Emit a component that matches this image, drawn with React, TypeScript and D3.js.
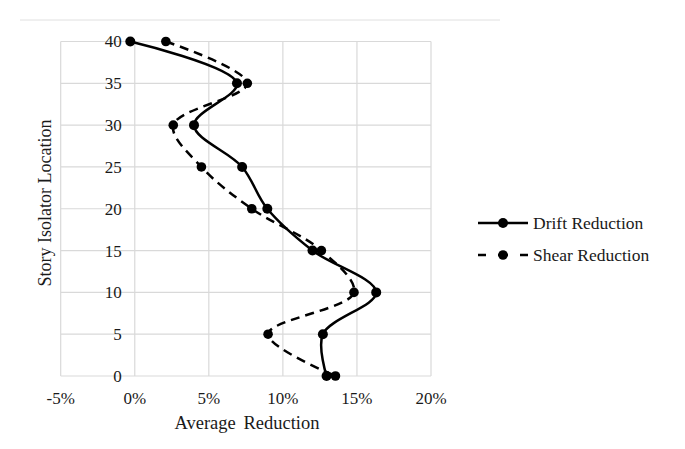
import React from "react";
import * as d3 from "d3";

const stories = [40, 35, 30, 25, 20, 15, 10, 5, 0];
const driftReduction = [-0.3, 6.9, 4.0, 7.25, 8.95, 12.0, 16.3, 12.7, 12.95];
const shearReduction = [2.1, 7.6, 2.6, 4.5, 7.9, 12.6, 14.8, 9.0, 13.55];
const xTicks = [-5, 0, 5, 10, 15, 20];
const yTicks = [0, 5, 10, 15, 20, 25, 30, 35, 40];

const W = 685;
const H = 449;
const font = "'Liberation Serif', 'Times New Roman', serif";
const ink = "#1a1a1a";

export default function App() {
  const x = d3.scaleLinear().domain([-5, 20]).range([60.7, 431]);
  const y = d3.scaleLinear().domain([0, 40]).range([376, 41.5]);

  const line = d3
    .line<[number, number]>()
    .x((d) => x(d[0]))
    .y((d) => y(d[1]))
    .curve(d3.curveCatmullRom.alpha(0.5));

  const drift = stories.map((s, i) => [driftReduction[i], s] as [number, number]);
  const shear = stories.map((s, i) => [shearReduction[i], s] as [number, number]);

  return (
    <svg width={W} height={H} style={{ position: "absolute", left: 0, top: 0, background: "#fff" }}>
      <line x1={20} x2={500} y1={20} y2={20} stroke="#e0e0e0" strokeWidth={1} />
      {/* gridlines */}
      {xTicks.map((t) => (
        <line key={"gx" + t} x1={x(t)} x2={x(t)} y1={y(0)} y2={y(40)} stroke="#d9d9d9" strokeWidth={1.2} />
      ))}
      {yTicks.map((t) => (
        <line key={"gy" + t} x1={x(-5)} x2={x(20)} y1={y(t)} y2={y(t)} stroke="#d9d9d9" strokeWidth={1.2} />
      ))}
      {/* tick labels */}
      {yTicks.map((t) => (
        <text key={"ty" + t} x={x(0) - 13} y={y(t)} dy="0.35em" textAnchor="end" fontFamily={font} fontSize={17} fill={ink}>
          {t}
        </text>
      ))}
      {xTicks.map((t) => (
        <text key={"tx" + t} x={x(t)} y={398} dy="0.35em" textAnchor="middle" fontFamily={font} fontSize={17} fill={ink}>
          {t + "%"}
        </text>
      ))}
      <text x={247} y={423} dy="0.35em" textAnchor="middle" fontFamily={font} fontSize={18.5} wordSpacing={3} fill={ink}>
        Average Reduction
      </text>
      <text
        transform={`translate(45,${203}) rotate(-90)`}
        dy="0.35em"
        textAnchor="middle"
        fontFamily={font}
        fontSize={18}
        fill={ink}
      >
        Story Isolator Location
      </text>
      {/* series */}
      <path d={line(shear) || ""} fill="none" stroke="#000" strokeWidth={2.5} strokeDasharray="9,6" />
      <path d={line(drift) || ""} fill="none" stroke="#000" strokeWidth={2.5} />
      {shear.map((d, i) => (
        <circle key={"s" + i} cx={x(d[0])} cy={y(d[1])} r={4.8} fill="#000" />
      ))}
      {drift.map((d, i) => (
        <circle key={"d" + i} cx={x(d[0])} cy={y(d[1])} r={5} fill="#000" />
      ))}
      {/* legend */}
      <line x1={478} x2={528} y1={223} y2={223} stroke="#000" strokeWidth={2.5} />
      <circle cx={503} cy={223} r={5} fill="#000" />
      <text x={533} y={223} dy="0.35em" fontFamily={font} fontSize={17.5} fill={ink}>
        Drift Reduction
      </text>
      <line x1={478} x2={528} y1={255} y2={255} stroke="#000" strokeWidth={2.5} strokeDasharray="8,12,10,12,8" />
      <circle cx={503} cy={255} r={4.8} fill="#000" />
      <text x={533} y={255} dy="0.35em" fontFamily={font} fontSize={17.5} fill={ink}>
        Shear Reduction
      </text>
    </svg>
  );
}
